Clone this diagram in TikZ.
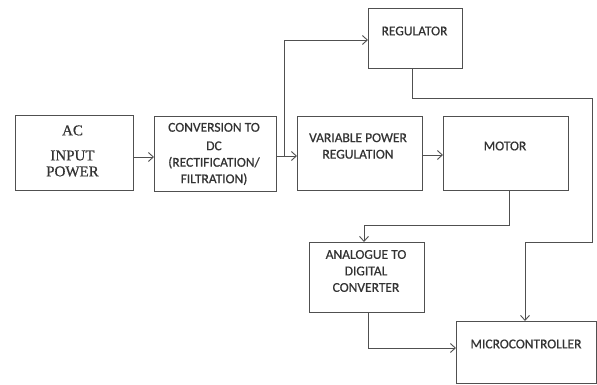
\documentclass[tikz,border=0pt]{standalone}
\usepackage{fontspec}
\setmainfont{Carlito}[FakeBold=0.6]
\newfontfamily\acserif{Liberation Serif}[FakeBold=0.6]
\usetikzlibrary{arrows.meta}
\definecolor{linec}{HTML}{505050}
\definecolor{txtc}{HTML}{333333}
\begin{document}
\begin{tikzpicture}[x=1pt,y=-1pt,
  box/.style={draw=linec, line width=0.9pt, inner sep=0pt, anchor=north west},
  txt/.style={text=txtc, align=center, inner sep=0pt, font=\fontsize{13.5}{16.5}\selectfont},
  actxt/.style={text=txtc, align=center, inner sep=0pt, font=\acserif\fontsize{15}{16}\selectfont},
  arr/.style={draw=linec, line width=0.9pt, -{Straight Barb[length=5pt,width=9pt]}},
  ln/.style={draw=linec, line width=0.9pt}]
\useasboundingbox (0,0) rectangle (597,385);
\fill[white] (0,0) rectangle (597,385);
% boxes
\node[box, minimum width=118pt, minimum height=75pt] (ac) at (15,115) {};
\node[box, minimum width=122pt, minimum height=75pt] (conv) at (154,116) {};
\node[box, minimum width=94pt, minimum height=60pt] (reg) at (368,8) {};
\node[box, minimum width=125pt, minimum height=74pt] (var) at (297,116) {};
\node[box, minimum width=125pt, minimum height=74pt] (motor) at (443,116) {};
\node[box, minimum width=115pt, minimum height=70pt] (adc) at (309,242) {};
\node[box, minimum width=140pt, minimum height=62pt] (micro) at (456,321) {};
% texts
\node[actxt] (actext) at (72.5,151) {AC\\[9pt]INPUT\\POWER};
\node[txt] (convtext) at (214,154) {CONVERSION TO\\[2pt]DC\\(RECTIFICATION/\\FILTRATION)};
\node[txt] (regtext) at (414.5,31) {REGULATOR};
\node[txt] (vartext) at (358,146) {VARIABLE POWER\\REGULATION};
\node[txt] (motortext) at (505,146) {MOTOR};
\node[txt] (adctext) at (366,271) {ANALOGUE TO\\DIGITAL\\CONVERTER};
\node[txt] (microtext) at (526,344) {MICROCONTROLLER};
% connectors
\coordinate (j1) at (284,156);
\draw[arr] (ac.east |- 0,157) -- (conv.west |- 0,157);
\draw[arr] (conv.east |- 0,156) -- (var.west |- 0,156);
\draw[arr] (j1) |- (reg.west |- 0,40);
\draw[arr] (var.east |- 0,155) -- (motor.west |- 0,155);
\draw[arr] (reg.south -| 412,0) -- (412,98) -- (592,98) -- (592,242) -- (525,242) -- (micro.north -| 525,0);
\draw[arr] (motor.south -| 509,0) -- (509,225) -- (364,225) -- (adc.north -| 364,0);
\draw[arr] (adc.south -| 368,0) -- (368,348) -- (micro.west |- 0,348);
\end{tikzpicture}
\end{document}
